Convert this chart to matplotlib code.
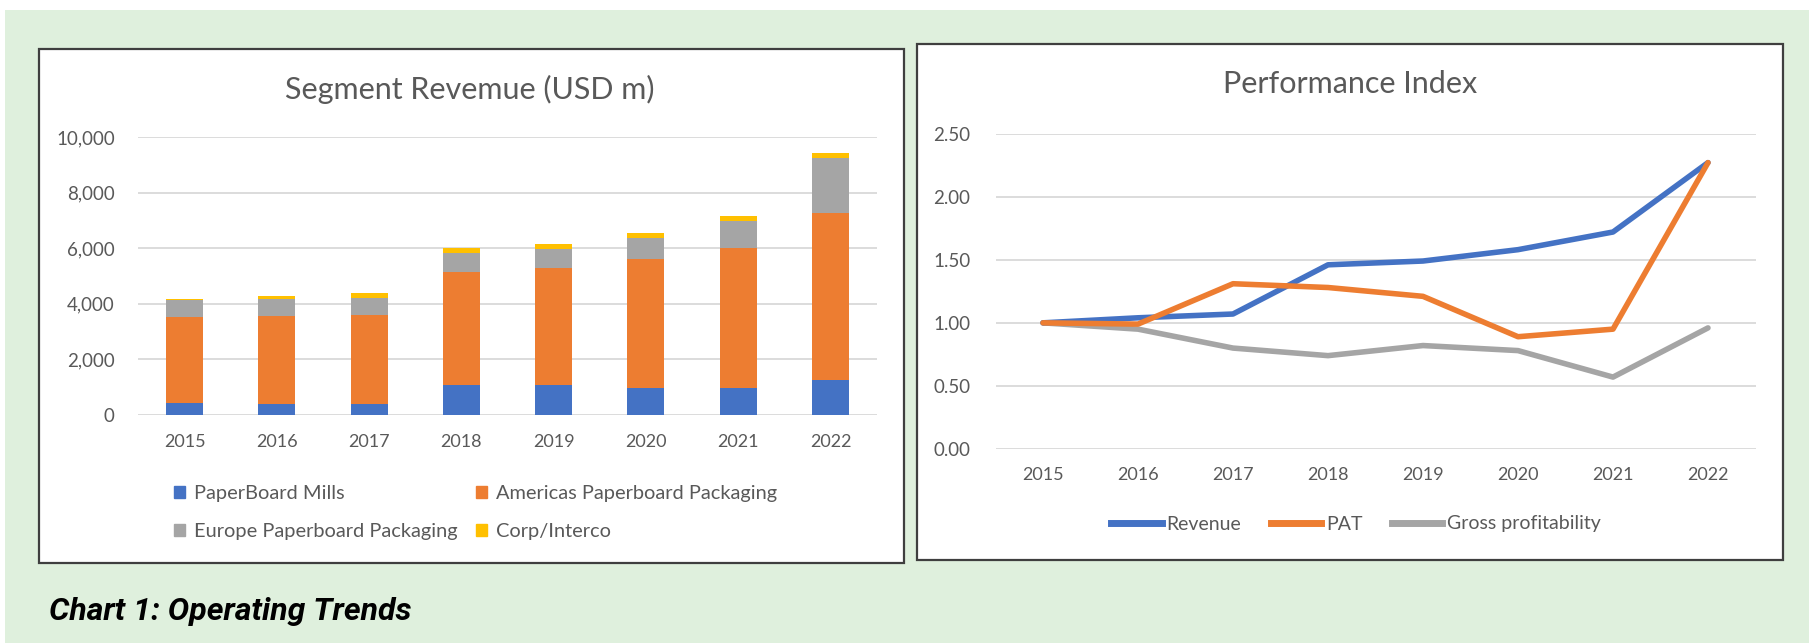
import matplotlib
matplotlib.use("Agg")
import matplotlib.pyplot as plt
from matplotlib.patches import Rectangle, Patch
from matplotlib.lines import Line2D
import numpy as np

# ---------------- data ----------------
years = ["2015", "2016", "2017", "2018", "2019", "2020", "2021", "2022"]

paperboard_mills = [430, 370, 370, 1070, 1070, 960, 960, 1240]
americas_pkg = [3080, 3190, 3240, 4060, 4210, 4660, 5050, 6050]
europe_pkg = [610, 600, 610, 710, 710, 760, 980, 1950]
corp_interco = [60, 120, 170, 170, 170, 170, 170, 180]

revenue_idx = [1.00, 1.04, 1.07, 1.46, 1.49, 1.58, 1.72, 2.27]
pat_idx = [1.00, 0.99, 1.31, 1.28, 1.21, 0.89, 0.95, 2.27]
gross_idx = [1.00, 0.95, 0.80, 0.74, 0.82, 0.78, 0.57, 0.96]

left_title = "Segment Revemue (USD m)"
right_title = "Performance Index"
caption = "Chart 1: Operating Trends"
seg_labels = ["PaperBoard Mills", "Americas Paperboard Packaging",
              "Europe Paperboard Packaging", "Corp/Interco"]
line_labels = ["Revenue", "PAT", "Gross profitability"]

# ---------------- style ----------------
BLUE, ORANGE, GRAY, YELLOW = "#4472C4", "#ED7D31", "#A5A5A5", "#FFC000"
TXT = "#595959"
GRID = "#D9D9D9"
BG = "#DFF0DD"
FONT = "Lato"
plt.rcParams["font.family"] = [FONT, "DejaVu Sans"]

W, H = 1814, 643
fig = plt.figure(figsize=(W / 100, H / 100), dpi=100)
fig.patch.set_facecolor("white")


def fx(px):
    return px / W


def fy(py):
    return (H - py) / H


# green background panel
fig.patches.append(Rectangle((fx(5), fy(643)), fx(1809) - fx(5), fy(10) - fy(643),
                             transform=fig.transFigure, facecolor=BG, edgecolor="none", zorder=-3))
# white chart boxes with dark border
for (x0, y0, x1, y1) in [(39, 49, 904, 563), (917, 44, 1783, 560)]:
    fig.patches.append(Rectangle((fx(x0), fy(y1)), fx(x1) - fx(x0), fy(y0) - fy(y1),
                                 transform=fig.transFigure, facecolor="white",
                                 edgecolor="#3f3f3f", linewidth=1.6, zorder=-2))

# ---------------- left chart ----------------
axL = fig.add_axes([fx(138.4), fy(414.6), fx(876.6) - fx(138.4), fy(137.4) - fy(414.6)])
axL.set_facecolor("none")
axL.set_zorder(1)
x = np.arange(len(years))
bw = 0.40
b1 = np.array(paperboard_mills)
b2 = b1 + np.array(americas_pkg)
b3 = b2 + np.array(europe_pkg)
axL.bar(x, paperboard_mills, bw, color=BLUE, zorder=3)
axL.bar(x, americas_pkg, bw, bottom=b1, color=ORANGE, zorder=3)
axL.bar(x, europe_pkg, bw, bottom=b2, color=GRAY, zorder=3)
axL.bar(x, corp_interco, bw, bottom=b3, color=YELLOW, zorder=3)
axL.set_xlim(-0.5, len(years) - 0.5)
axL.set_ylim(0, 10000)
axL.set_yticks(np.arange(0, 10001, 2000))
axL.set_yticklabels([f"{v:,}" for v in range(0, 10001, 2000)])
axL.set_xticks(x)
axL.set_xticklabels(years)
axL.grid(axis="y", color=GRID, linewidth=1.3, zorder=0)
axL.set_axisbelow(True)
for s in axL.spines.values():
    s.set_visible(False)
axL.tick_params(axis="y", length=0, pad=17, labelsize=13.5, labelcolor=TXT)
axL.tick_params(axis="x", length=0, pad=14, labelsize=13, labelcolor=TXT)

fig.text(fx(470), fy(89), left_title, ha="center", va="center", fontsize=22, color=TXT)

handlesL = [Patch(color=BLUE), Patch(color=GRAY), Patch(color=ORANGE), Patch(color=YELLOW)]
labelsL = [seg_labels[0], seg_labels[2], seg_labels[1], seg_labels[3]]
fig.legend(handlesL, labelsL, ncol=2, loc="center left",
           bbox_to_anchor=(fx(174), fy(512.5)), frameon=False, fontsize=14.4,
           handlelength=0.55, handleheight=0.6, handletextpad=0.45,
           columnspacing=0.9, labelspacing=1.05, borderpad=0, borderaxespad=0,
           labelcolor=TXT)

# ---------------- right chart ----------------
axR = fig.add_axes([fx(995.5), fy(449), fx(1755.5) - fx(995.5), fy(133.6) - fy(449)])
axR.set_facecolor("none")
axR.set_zorder(1)
axR.plot(x, revenue_idx, color=BLUE, lw=4.0, zorder=3, solid_capstyle="round")
axR.plot(x, pat_idx, color=ORANGE, lw=4.0, zorder=4, solid_capstyle="round")
axR.plot(x, gross_idx, color=GRAY, lw=4.0, zorder=2, solid_capstyle="round")
axR.set_xlim(-0.5, len(years) - 0.5)
axR.set_ylim(0, 2.5)
axR.set_yticks(np.arange(0, 2.51, 0.5))
axR.set_yticklabels([f"{v:.2f}" for v in np.arange(0, 2.51, 0.5)])
axR.set_xticks(x)
axR.set_xticklabels(years)
axR.grid(axis="y", color=GRID, linewidth=1.3, zorder=0)
axR.set_axisbelow(True)
for s in axR.spines.values():
    s.set_visible(False)
axR.tick_params(axis="y", length=0, pad=18, labelsize=13.5, labelcolor=TXT)
axR.tick_params(axis="x", length=0, pad=13, labelsize=13, labelcolor=TXT)

fig.text(fx(1350), fy(84), right_title, ha="center", va="center", fontsize=22, color=TXT)

handlesR = [Line2D([], [], color=c, lw=5.0) for c in (BLUE, ORANGE, GRAY)]
fig.legend(handlesR, line_labels, ncol=3, loc="center",
           bbox_to_anchor=(fx(1356), fy(524)), frameon=False, fontsize=14,
           handlelength=2.6, handletextpad=0.25, columnspacing=1.5,
           borderpad=0, borderaxespad=0, labelcolor=TXT)

# ---------------- caption ----------------
fig.text(fx(49), fy(611), caption, ha="left", va="center", fontsize=23,
         fontweight="bold", fontstyle="italic", family=["Roboto", "DejaVu Sans"], color="black")

fig.savefig("out.png", dpi=100, facecolor=fig.get_facecolor())
